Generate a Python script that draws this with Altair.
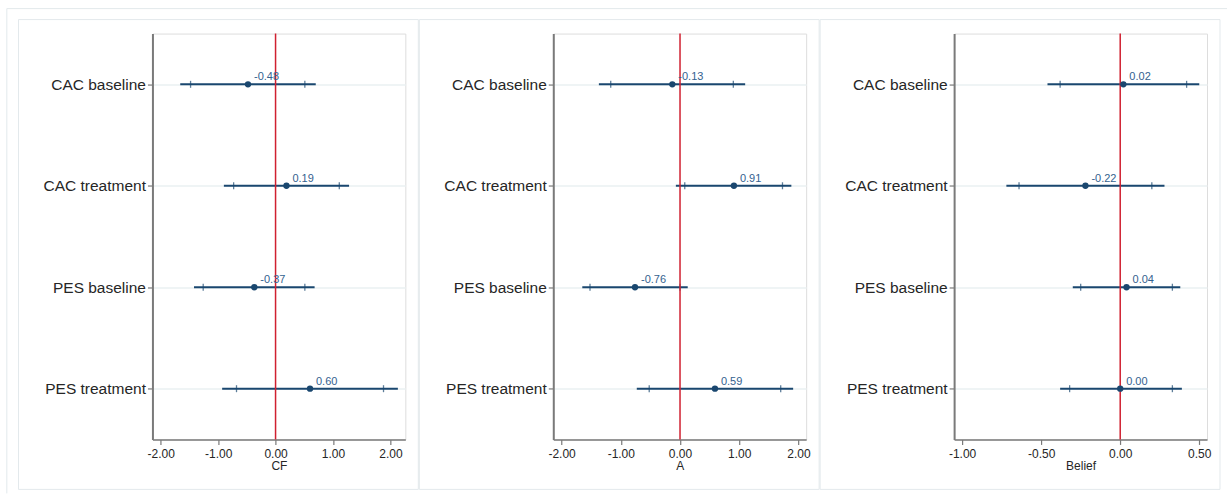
import altair as alt
import pandas as pd

categories = ["CAC baseline", "CAC treatment", "PES baseline", "PES treatment"]

# CF panel
cf_est = [-0.48, 0.19, -0.37, 0.60]
cf_lo95 = [-1.66, -0.90, -1.42, -0.93]
cf_hi95 = [0.70, 1.28, 0.68, 2.13]
cf_lo90 = [-1.48, -0.73, -1.26, -0.68]
cf_hi90 = [0.51, 1.11, 0.51, 1.88]

# A panel
a_est = [-0.13, 0.91, -0.76, 0.59]
a_lo95 = [-1.37, -0.07, -1.65, -0.73]
a_hi95 = [1.10, 1.88, 0.13, 1.91]
a_lo90 = [-1.17, 0.08, -1.52, -0.52]
a_hi90 = [0.90, 1.73, 0.00, 1.70]

# Belief panel
b_est = [0.02, -0.22, 0.04, 0.00]
b_lo95 = [-0.46, -0.72, -0.30, -0.38]
b_hi95 = [0.50, 0.28, 0.38, 0.39]
b_lo90 = [-0.38, -0.64, -0.25, -0.32]
b_hi90 = [0.42, 0.20, 0.33, 0.33]

titles = ["CF", "A", "Belief"]
domains = [[-2.144, 2.26], [-2.14, 2.13], [-1.0506, 0.549]]
tick_values = [[-2, -1, 0, 1, 2], [-2, -1, 0, 1, 2], [-1, -0.5, 0, 0.5]]

NAVY = "#1a476f"
LABEL = "#34628f"
RED = "#d02030"
AXIS_GRAY = "#7a7a7a"
TEXT = "#262626"
BORDER = "#e3e9ec"
FONT = "Liberation Sans"
W, H = 253, 406


def make_panel(idx, title, est, lo95, hi95, lo90, hi90, domain, ticks):
    df = pd.DataFrame({
        "cat": categories, "est": est, "lo95": lo95, "hi95": hi95,
        "lo90": lo90, "hi90": hi90, "lab": [f"{v:.2f}" for v in est],
    })
    xs = alt.Scale(domain=domain, nice=False, zero=False)
    ys = alt.Scale(type="point", padding=0.5, domain=categories)
    x_axis = alt.Axis(
        title=title, values=ticks, grid=False,
        labelExpr="(datum.value < 0 ? '-' : '') + format(abs(datum.value), '.2f')",
        domainColor=AXIS_GRAY, domainWidth=1.5, tickColor=AXIS_GRAY, tickWidth=1.2,
        tickSize=5, labelFontSize=12, labelColor=TEXT, labelPadding=4,
        labelFlush=False, labelOverlap=False, labelFont=FONT,
        titleFontSize=12, titleFontWeight="normal", titleColor=TEXT,
        titlePadding=1, titleFont=FONT,
    )
    y_axis = alt.Axis(
        title=None, grid=True, gridColor="#eaf0f2", gridWidth=1.5,
        domainColor=AXIS_GRAY, domainWidth=2, tickColor=AXIS_GRAY, tickWidth=1.2,
        tickSize=5, labelFontSize=15.5, labelColor=TEXT, labelPadding=2,
        labelFont=FONT,
    )
    base = alt.Chart(df)
    Y = alt.Y("cat:N", scale=ys, axis=y_axis, sort=categories)

    ci = base.mark_rule(color=NAVY, strokeWidth=2).encode(
        x=alt.X("lo95:Q", scale=xs, axis=x_axis), x2="hi95:Q", y=Y)
    t90 = base.transform_fold(["lo90", "hi90"], as_=["which", "v"]).mark_tick(
        color=NAVY, size=7, thickness=1.3).encode(
        x=alt.X("v:Q", scale=xs, axis=x_axis), y=Y)
    zero = alt.Chart(pd.DataFrame({"z": [0]})).mark_rule(
        color=RED, strokeWidth=1.5).encode(x=alt.X("z:Q", scale=xs, axis=x_axis))
    pts = base.mark_circle(color=NAVY, size=40, opacity=1).encode(
        x=alt.X("est:Q", scale=xs, axis=x_axis), y=Y)
    txt = base.mark_text(align="left", baseline="bottom", dx=6, dy=-2,
                         fontSize=11, color=LABEL, font=FONT).encode(
        x=alt.X("est:Q", scale=xs, axis=x_axis), y=Y, text="lab:N")

    deco = alt.Chart(pd.DataFrame({"d": [0]}))
    frame = deco.mark_rect(filled=False, color=BORDER, strokeWidth=1).encode(
        x=alt.value(-134), x2=alt.value(266), y=alt.value(-14), y2=alt.value(456))
    layers = [frame]
    if idx == 0:
        top_line = deco.mark_rule(color=BORDER, strokeWidth=1).encode(
            x=alt.value(-145.7), x2=alt.value(1075), y=alt.value(-25))
        left_line = deco.mark_rule(color=BORDER, strokeWidth=1).encode(
            x=alt.value(-145.7), y=alt.value(-25), y2=alt.value(460))
        layers += [top_line, left_line]
    layers += [ci, t90, zero, pts, txt]
    return alt.layer(*layers).properties(width=W, height=H)


data_sets = [
    (cf_est, cf_lo95, cf_hi95, cf_lo90, cf_hi90),
    (a_est, a_lo95, a_hi95, a_lo90, a_hi90),
    (b_est, b_lo95, b_hi95, b_lo90, b_hi90),
]

panels = [make_panel(i, titles[i], *data_sets[i], domains[i], tick_values[i])
          for i in range(3)]

chart = alt.hconcat(*panels, spacing=148, bounds="flush").properties(
    padding={"left": 5.5, "top": 7.5, "right": 0, "bottom": 0},
    background="white",
).configure_view(stroke=None).configure(font=FONT)

chart.save("out.html", embed_options={"renderer": "svg", "actions": False})
